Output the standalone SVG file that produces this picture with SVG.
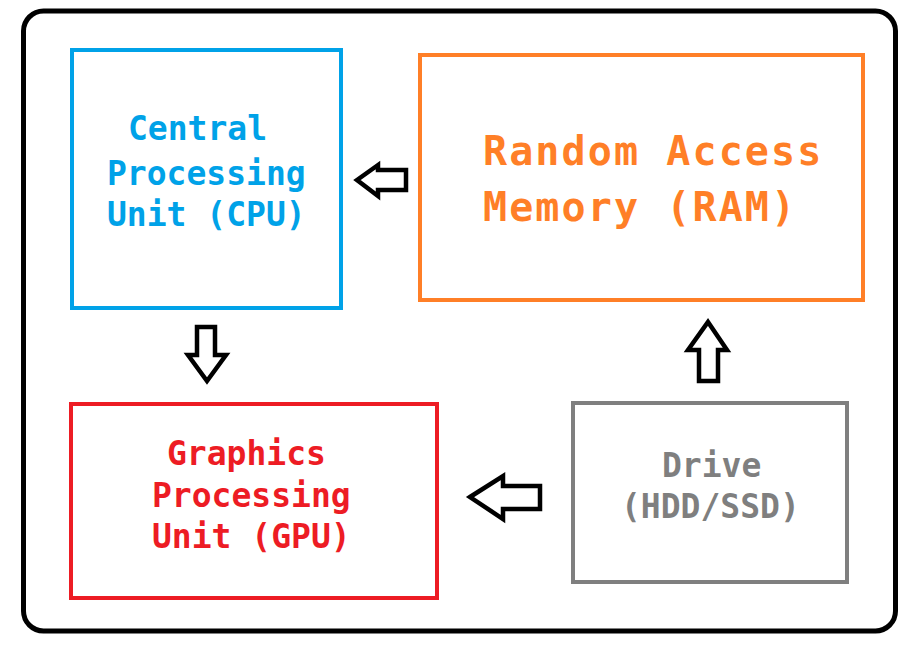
<svg xmlns="http://www.w3.org/2000/svg" width="920" height="647" viewBox="0 0 920 647">
<style>
.t{font-family:"DejaVu Sans Mono","Liberation Mono",monospace;font-weight:bold;}
.box{fill:none;stroke-width:4;}
.arr{fill:#fff;stroke:#000;stroke-width:4.5;stroke-linejoin:miter;}
</style>
<rect x="0" y="0" width="920" height="647" fill="#fff"/>
<rect id="frame" x="23.5" y="11" width="872" height="620" rx="20" ry="20" fill="none" stroke="#000" stroke-width="5"/>
<g id="cpu">
<rect class="box" x="72" y="50" width="269" height="258" stroke="#00A2E8"/>
<g class="t" fill="#00A2E8" font-size="33">
<text x="128" y="140">Central</text>
<text x="107" y="185">Processing</text>
<text x="107" y="226">Unit (CPU)</text>
</g>
</g>
<g id="ram">
<rect class="box" x="420" y="55" width="443" height="245" stroke="#FF7F27"/>
<g class="t" fill="#FF7F27" font-size="40" letter-spacing="2.1">
<text x="483" y="165">Random Access</text>
<text x="483" y="221">Memory (RAM)</text>
</g>
</g>
<g id="gpu">
<rect class="box" x="71" y="404" width="366" height="194" stroke="#ED1C24"/>
<g class="t" fill="#ED1C24" font-size="33">
<text x="167" y="465">Graphics</text>
<text x="152" y="507">Processing</text>
<text x="152" y="548">Unit (GPU)</text>
</g>
</g>
<g id="drive">
<rect class="box" x="573" y="403" width="274" height="179" stroke="#7F7F7F"/>
<g class="t" fill="#7F7F7F" font-size="33">
<text x="662" y="477">Drive</text>
<text x="621" y="518">(HDD/SSD)</text>
</g>
</g>
<g id="connectors">
<polygon class="arr" points="357,180 378,165 378,170 406,170 406,190 378,190 378,196"/>
<polygon class="arr" points="197,327 215,327 215,355 226,355 207,381 188,355 197,355"/>
<polygon class="arr" points="708,322 727,350 718,350 718,381 699,381 699,350 688,350"/>
<polygon class="arr" points="470,497 503,476 503,486 540,486 540,509 503,509 503,519"/>
</g>
</svg>
